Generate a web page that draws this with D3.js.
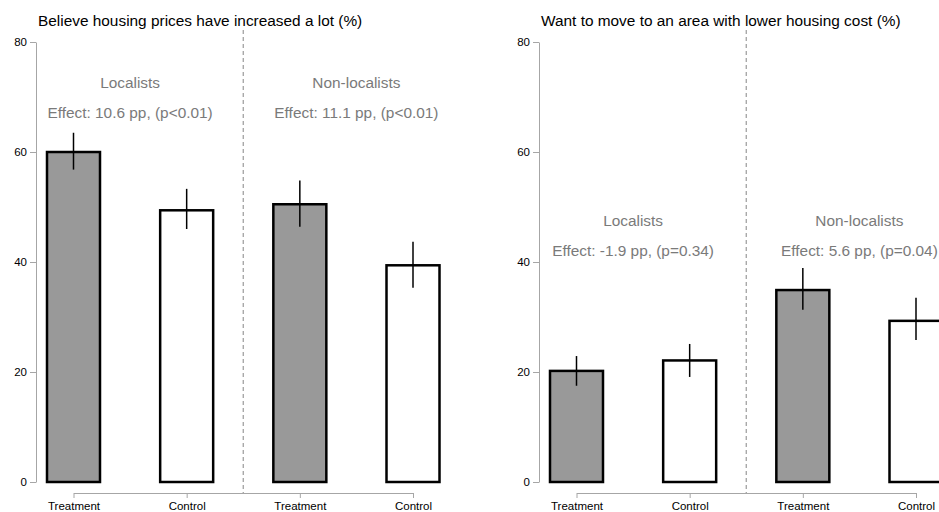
<!DOCTYPE html>
<html>
<head>
<meta charset="utf-8">
<script src="https://cdn.jsdelivr.net/npm/d3@7"></script>
<style>
  html, body { margin: 0; padding: 0; background: #fff; }
  svg { display: block; font-family: "Liberation Sans", Arial, Helvetica, sans-serif; }
</style>
</head>
<body>
<svg id="chart" width="939" height="512"></svg>
<script>
// Experiment arms and respondent groups
const groups = ["Localists", "Non-localists"];
const arms = ["Treatment", "Control"];
const yTicks = [0, 20, 40, 60, 80];

// Panel 1: believe housing prices have increased a lot (%)
const pricesTitle = "Believe housing prices have increased a lot (%)";
const pricesMean = [60.0, 49.4, 50.5, 39.4];
const pricesLo   = [56.8, 46.0, 46.4, 35.3];
const pricesHi   = [63.5, 53.3, 54.8, 43.7];
const pricesEffects = ["Effect: 10.6 pp, (p<0.01)", "Effect: 11.1 pp, (p<0.01)"];

// Panel 2: want to move to an area with lower housing cost (%)
const moveTitle = "Want to move to an area with lower housing cost (%)";
const moveMean = [20.2, 22.1, 34.9, 29.3];
const moveLo   = [17.5, 19.1, 31.3, 25.8];
const moveHi   = [22.9, 25.1, 38.9, 33.5];
const moveEffects = ["Effect: -1.9 pp, (p=0.34)", "Effect: 5.6 pp, (p=0.04)"];

const panels = [
  { title: pricesTitle, mean: pricesMean, lo: pricesLo, hi: pricesHi, effects: pricesEffects, left: 36 },
  { title: moveTitle,   mean: moveMean,   lo: moveLo,   hi: moveHi,   effects: moveEffects,   left: 539 }
];

const svg = d3.select("#chart");
const y = d3.scaleLinear().domain([0, 80]).range([482, 42]);
const barW = 53;
const axisGrey = "#a6a6a6";

panels.forEach(p => {
  const g = svg.append("g");
  const cats = d3.range(4);
  const x = d3.scalePoint().domain(cats).range([p.left + 37.5, p.left + 377]);
  const labelOf = i => arms[i % 2];

  // y axis
  const yAxis = g.append("g")
    .attr("transform", `translate(${p.left},0)`)
    .call(d3.axisLeft(y).tickValues(yTicks).tickSize(6).tickSizeOuter(0).tickPadding(3));
  yAxis.select(".domain").attr("stroke", axisGrey);
  yAxis.selectAll(".tick line").attr("stroke", axisGrey);
  yAxis.selectAll(".tick text").attr("fill", "#000").style("font-size", "11.5px");

  // x axis (category ticks)
  const xAxis = g.append("g")
    .attr("transform", "translate(0,493)")
    .call(d3.axisBottom(x).tickFormat(labelOf).tickSize(5).tickSizeOuter(0).tickPadding(3.5));
  xAxis.select(".domain").attr("stroke", axisGrey);
  xAxis.selectAll(".tick line").attr("stroke", axisGrey);
  xAxis.selectAll(".tick text").attr("fill", "#000").style("font-size", "11.5px");

  // divider between the two groups
  const mid = (x(1) + x(2)) / 2;
  g.append("line")
    .attr("x1", mid).attr("x2", mid)
    .attr("y1", 30).attr("y2", 493)
    .attr("stroke", "#9a9a9a").attr("stroke-width", 1.2)
    .attr("stroke-dasharray", "4,3");

  // bars
  g.selectAll("rect.bar").data(cats).join("rect")
    .attr("class", "bar")
    .attr("x", i => x(i) - barW / 2)
    .attr("width", barW)
    .attr("y", i => y(p.mean[i]))
    .attr("height", i => y(0) - y(p.mean[i]))
    .attr("fill", i => i % 2 === 0 ? "#999999" : "#ffffff")
    .attr("stroke", "#000").attr("stroke-width", 2.5);

  // confidence intervals
  g.selectAll("line.ci").data(cats).join("line")
    .attr("class", "ci")
    .attr("x1", i => x(i)).attr("x2", i => x(i))
    .attr("y1", i => y(p.hi[i])).attr("y2", i => y(p.lo[i]))
    .attr("stroke", "#000").attr("stroke-width", 1.5);

  // group labels and effect annotations, placed above the tallest bar
  const top = y(d3.max(p.mean));
  groups.forEach((name, k) => {
    const cx = (x(2 * k) + x(2 * k + 1)) / 2;
    g.append("text").attr("x", cx).attr("y", top - 64.5)
      .attr("text-anchor", "middle").attr("fill", "#7a7a7a")
      .style("font-size", "15.4px").text(name);
    g.append("text").attr("x", cx).attr("y", top - 34)
      .attr("text-anchor", "middle").attr("fill", "#7a7a7a")
      .style("font-size", "15.4px").text(p.effects[k]);
  });

  // panel title
  g.append("text").attr("x", p.left + 2).attr("y", 25.5)
    .attr("fill", "#000").style("font-size", "15.4px").text(p.title);
});
</script>
</body>
</html>
